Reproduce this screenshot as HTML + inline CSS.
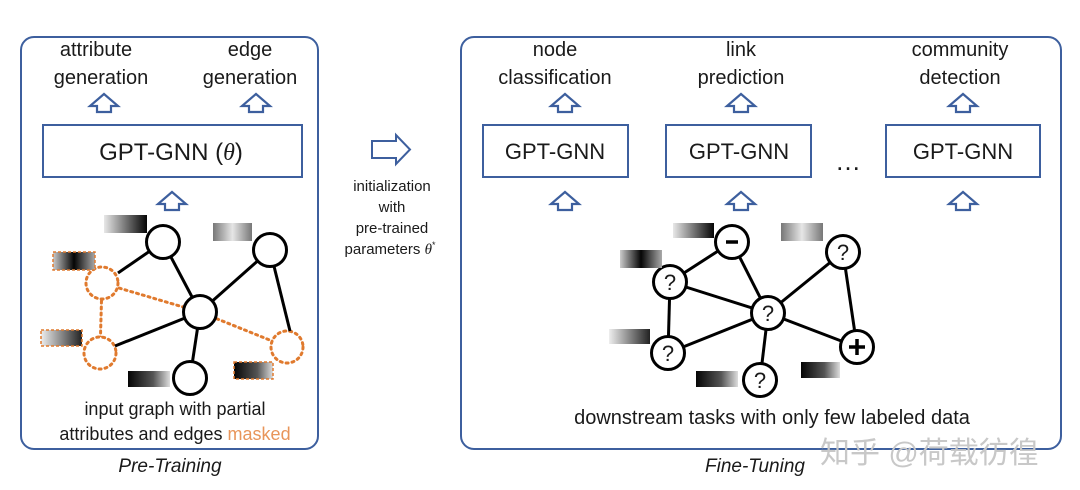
<!DOCTYPE html>
<html><head><meta charset="utf-8"><style>
html,body{margin:0;padding:0;background:#fff;}
svg{display:block;}
text{font-family:"Liberation Sans","Noto Sans CJK SC",sans-serif;fill:#1a1a1a;}
</style></head><body>
<svg width="1080" height="490" viewBox="0 0 1080 490" xmlns="http://www.w3.org/2000/svg">
<defs>
<linearGradient id="g1" x1="0" x2="1"><stop offset="0" stop-color="#e8e8e8"/><stop offset="1" stop-color="#050505"/></linearGradient>
<linearGradient id="g2" x1="0" x2="1"><stop offset="0" stop-color="#777"/><stop offset="0.5" stop-color="#e6e6e6"/><stop offset="1" stop-color="#777"/></linearGradient>
<linearGradient id="g3" x1="0" x2="1"><stop offset="0" stop-color="#ccc"/><stop offset="0.5" stop-color="#050505"/><stop offset="1" stop-color="#aaa"/></linearGradient>
<linearGradient id="g4" x1="0" x2="1"><stop offset="0" stop-color="#050505"/><stop offset="0.6" stop-color="#555"/><stop offset="1" stop-color="#ddd"/></linearGradient>
<linearGradient id="g5" x1="0" x2="1"><stop offset="0" stop-color="#eee"/><stop offset="1" stop-color="#222"/></linearGradient>
<g id="up"><path d="M0,-9 L14,3 L7,3 L7,9 L-7,9 L-7,3 L-14,3 Z" fill="#fff" stroke="#3d5f9e" stroke-width="2.2" stroke-linejoin="miter"/></g>
</defs>

<rect x="21" y="37" width="297" height="412" rx="13" fill="none" stroke="#3d5f9e" stroke-width="2"/>
<rect x="461" y="37" width="600" height="412" rx="13" fill="none" stroke="#3d5f9e" stroke-width="2"/>

<g font-size="20" text-anchor="middle">
<text x="96" y="56">attribute</text><text x="101" y="84">generation</text>
<text x="250" y="56">edge</text><text x="250" y="84">generation</text>
</g>
<use href="#up" x="104" y="103"/>
<use href="#up" x="256" y="103"/>
<rect x="43" y="125" width="259" height="52" fill="#fff" stroke="#3d5f9e" stroke-width="2"/>
<text x="171" y="160" font-size="24" text-anchor="middle">GPT-GNN (<tspan font-family="Liberation Serif" font-style="italic">θ</tspan>)</text>
<use href="#up" x="172" y="201"/>

<g stroke="#e07a2e" stroke-width="3" stroke-dasharray="2 4" stroke-linecap="round" fill="none">
<line x1="102" y1="283" x2="200" y2="312"/>
<line x1="102" y1="283" x2="100" y2="353"/>
<line x1="200" y1="312" x2="287" y2="347"/>
<circle cx="102" cy="283" r="16" fill="#fff"/>
<circle cx="100" cy="353" r="16" fill="#fff"/>
<circle cx="287" cy="347" r="16" fill="#fff"/>
</g>
<g stroke="#000" stroke-width="3" fill="#fff">
<line x1="118" y1="273" x2="163" y2="242"/>
<line x1="163" y1="242" x2="200" y2="312"/>
<line x1="270" y1="250" x2="200" y2="312"/>
<line x1="200" y1="312" x2="115" y2="346"/>
<line x1="200" y1="312" x2="190" y2="378"/>
<line x1="270" y1="250" x2="290" y2="331"/>
<circle cx="163" cy="242" r="16.5"/>
<circle cx="270" cy="250" r="16.5"/>
<circle cx="200" cy="312" r="16.5"/>
<circle cx="190" cy="378" r="16.5"/>
</g>
<rect x="104" y="215" width="43" height="18" fill="url(#g1)"/>
<rect x="213" y="223" width="39" height="18" fill="url(#g2)"/>
<rect x="53" y="252" width="42" height="18" fill="url(#g3)" stroke="#e07a2e" stroke-width="1.5" stroke-dasharray="3 2"/>
<rect x="41" y="330" width="41" height="16" fill="url(#g5)" stroke="#e07a2e" stroke-width="1.5" stroke-dasharray="3 2"/>
<rect x="128" y="371" width="42" height="16" fill="url(#g4)"/>
<rect x="234" y="362" width="39" height="17" fill="url(#g4)" stroke="#e07a2e" stroke-width="1.5" stroke-dasharray="3 2"/>
<g font-size="18" text-anchor="middle">
<text x="175" y="415">input graph with partial</text>
<text x="175" y="440">attributes and edges <tspan fill="#e8955a">masked</tspan></text>
</g>
<text x="170" y="472" font-size="19" font-style="italic" text-anchor="middle" fill="#333">Pre-Training</text>

<path d="M372,141 L396,141 L396,135 L410,149.5 L396,164 L396,158 L372,158 Z" fill="#fff" stroke="#3d5f9e" stroke-width="2"/>
<g font-size="15" text-anchor="middle">
<text x="392" y="191">initialization</text>
<text x="392" y="212">with</text>
<text x="392" y="233">pre-trained</text>
<text x="390" y="254">parameters <tspan font-family="Liberation Serif" font-style="italic">θ</tspan><tspan font-size="9" dy="-6">*</tspan></text>
</g>

<g font-size="20" text-anchor="middle">
<text x="555" y="56">node</text><text x="555" y="84">classification</text>
<text x="741" y="56">link</text><text x="741" y="84">prediction</text>
<text x="960" y="56">community</text><text x="960" y="84">detection</text>
</g>
<use href="#up" x="565" y="103"/>
<use href="#up" x="741" y="103"/>
<use href="#up" x="963" y="103"/>
<g fill="#fff" stroke="#3d5f9e" stroke-width="2">
<rect x="483" y="125" width="145" height="52"/>
<rect x="666" y="125" width="145" height="52"/>
<rect x="886" y="125" width="154" height="52"/>
</g>
<g font-size="22" text-anchor="middle">
<text x="555" y="159">GPT-GNN</text>
<text x="739" y="159">GPT-GNN</text>
<text x="963" y="159">GPT-GNN</text>
</g>
<text x="848" y="170" font-size="26" text-anchor="middle">…</text>
<use href="#up" x="565" y="201"/>
<use href="#up" x="741" y="201"/>
<use href="#up" x="963" y="201"/>

<g stroke="#000" stroke-width="3" fill="#fff">
<line x1="732" y1="242" x2="670" y2="282"/>
<line x1="732" y1="242" x2="768" y2="313"/>
<line x1="670" y1="282" x2="768" y2="313"/>
<line x1="670" y1="282" x2="668" y2="353"/>
<line x1="668" y1="353" x2="768" y2="313"/>
<line x1="768" y1="313" x2="843" y2="252"/>
<line x1="843" y1="252" x2="857" y2="347"/>
<line x1="768" y1="313" x2="857" y2="347"/>
<line x1="768" y1="313" x2="760" y2="380"/>
<circle cx="732" cy="242" r="16.5"/>
<circle cx="670" cy="282" r="16.5"/>
<circle cx="768" cy="313" r="16.5"/>
<circle cx="843" cy="252" r="16.5"/>
<circle cx="668" cy="353" r="16.5"/>
<circle cx="760" cy="380" r="16.5"/>
<circle cx="857" cy="347" r="16.5"/>
</g>
<g font-size="22" text-anchor="middle">
<text x="670" y="290">?</text><text x="768" y="321">?</text><text x="843" y="260">?</text>
<text x="668" y="361">?</text><text x="760" y="388">?</text>
</g>
<line x1="726" y1="242" x2="738" y2="242" stroke="#000" stroke-width="3.5"/>
<line x1="849" y1="347" x2="865" y2="347" stroke="#000" stroke-width="3.5"/>
<line x1="857" y1="339" x2="857" y2="355" stroke="#000" stroke-width="3.5"/>
<rect x="673" y="223" width="41" height="15" fill="url(#g1)"/>
<rect x="620" y="250" width="42" height="18" fill="url(#g3)"/>
<rect x="781" y="223" width="42" height="18" fill="url(#g2)"/>
<rect x="609" y="329" width="41" height="15" fill="url(#g5)"/>
<rect x="696" y="371" width="42" height="16" fill="url(#g4)"/>
<rect x="801" y="362" width="39" height="16" fill="url(#g4)"/>
<text x="772" y="424" font-size="20" text-anchor="middle">downstream tasks with only few labeled data</text>
<text x="755" y="472" font-size="19" font-style="italic" text-anchor="middle" fill="#333">Fine-Tuning</text>
<text x="820" y="463" font-size="30" style="fill:#c8c8c8">知乎 @荷载彷徨</text>
</svg>
</body></html>
